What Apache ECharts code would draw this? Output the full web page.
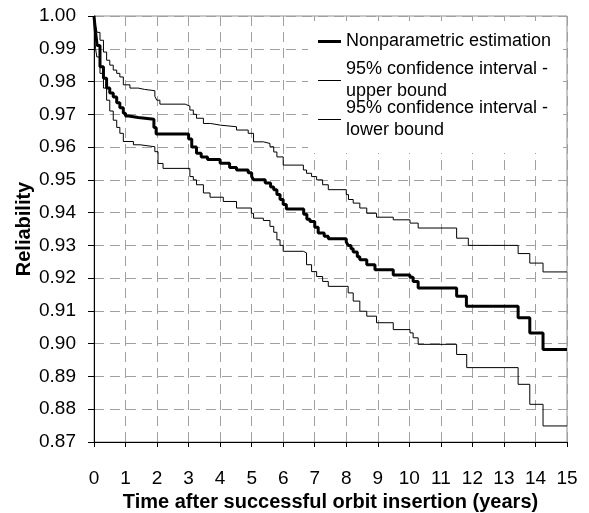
<!DOCTYPE html>
<html>
<head>
<meta charset="utf-8">
<script src="https://cdn.jsdelivr.net/npm/echarts@6/dist/echarts.min.js"></script>
<style>
  html, body { margin: 0; padding: 0; background: #fff; }
  #chart { width: 589px; height: 513px; }
</style>
</head>
<body>
<div id="chart"></div>
<script>
// tick labels
var xTicks = [0, 1, 2, 3, 4, 5, 6, 7, 8, 9, 10, 11, 12, 13, 14, 15];
var yTicks = [0.87, 0.88, 0.89, 0.90, 0.91, 0.92, 0.93, 0.94, 0.95, 0.96, 0.97, 0.98, 0.99, 1.00];

var seriesNames = [
  'Nonparametric estimation',
  '95% confidence interval -\nupper bound',
  '95% confidence interval -\nlower bound'
];

// [time (years), reliability] - level holds until next time
var estimate = [
  [0, 1.0], [0.05, 0.995], [0.1, 0.991], [0.19, 0.9845], [0.3, 0.981], [0.4, 0.978],
  [0.5, 0.9765], [0.61, 0.9753], [0.72, 0.9735], [0.82, 0.972], [0.93, 0.9703],
  [1.0, 0.9695], [1.1, 0.969], [1.4, 0.9685], [1.9, 0.966], [1.97, 0.964],
  [3.0, 0.9625], [3.1, 0.960], [3.25, 0.9581], [3.4, 0.957], [3.6, 0.9562],
  [4.0, 0.9551], [4.3, 0.9538], [4.52, 0.953], [4.89, 0.9522], [5.0, 0.951],
  [5.06, 0.950], [5.43, 0.949], [5.6, 0.9478], [5.7, 0.947], [5.8, 0.9455],
  [5.9, 0.944], [6.0, 0.9425], [6.1, 0.9411], [6.65, 0.9395], [6.75, 0.938],
  [6.85, 0.9373], [7.0, 0.9355], [7.11, 0.9338], [7.3, 0.9328], [7.43, 0.932],
  [8.0, 0.931], [8.06, 0.930], [8.15, 0.929], [8.22, 0.928], [8.35, 0.9265],
  [8.43, 0.9256], [8.65, 0.9241], [8.91, 0.9226], [9.49, 0.921], [10.02, 0.9203],
  [10.12, 0.919], [10.28, 0.917], [11.5, 0.9145], [11.81, 0.9114], [13.45, 0.9079],
  [13.82, 0.9033], [14.24, 0.8982], [15, 0.8982]
];

var upper = [
  [0, 1.0], [0.05, 0.997], [0.1, 0.995], [0.19, 0.9926], [0.3, 0.989], [0.4, 0.9865],
  [0.5, 0.985], [0.61, 0.9835], [0.72, 0.9825], [0.82, 0.9814], [0.93, 0.979],
  [1.14, 0.978], [1.4, 0.9776], [1.6, 0.9772], [1.93, 0.9755], [1.99, 0.9743],
  [2.09, 0.9731], [2.89, 0.9725], [3.04, 0.9713], [3.15, 0.970], [3.25, 0.9688],
  [3.47, 0.9672], [3.7, 0.9667], [4.0, 0.9662], [4.52, 0.9652], [4.89, 0.9642],
  [5.06, 0.9616], [5.37, 0.9611], [5.58, 0.9601], [5.7, 0.9585], [5.8, 0.957],
  [6.0, 0.9545], [6.64, 0.953], [6.74, 0.952], [6.9, 0.951], [7.06, 0.950],
  [7.25, 0.9485], [7.43, 0.947], [8.0, 0.9455], [8.07, 0.944], [8.22, 0.9429],
  [8.43, 0.9414], [8.65, 0.9398], [8.96, 0.9386], [9.49, 0.9378], [10.02, 0.9368],
  [10.28, 0.9353], [11.5, 0.9322], [11.87, 0.930], [13.45, 0.9275], [13.82, 0.9246],
  [14.24, 0.9219], [15, 0.9219]
];

var lower = [
  [0, 1.0], [0.02, 0.993], [0.05, 0.99], [0.09, 0.9875], [0.19, 0.9825], [0.3, 0.978],
  [0.4, 0.9743], [0.5, 0.971], [0.61, 0.9682], [0.72, 0.966], [0.82, 0.9642],
  [0.93, 0.9617], [1.25, 0.9607], [1.46, 0.9601], [1.93, 0.9586], [2.03, 0.955],
  [2.19, 0.9535], [3.04, 0.951], [3.15, 0.950], [3.25, 0.9485], [3.47, 0.946],
  [3.68, 0.9447], [4.1, 0.9434], [4.52, 0.9414], [4.99, 0.9398], [5.06, 0.9383],
  [5.37, 0.9376], [5.58, 0.9358], [5.7, 0.934], [5.8, 0.9317], [5.9, 0.930],
  [6.0, 0.9282], [6.64, 0.9277], [6.74, 0.9241], [6.9, 0.922], [7.06, 0.9205],
  [7.25, 0.919], [7.43, 0.9175], [8.06, 0.9155], [8.22, 0.913], [8.43, 0.9099],
  [8.65, 0.9084], [8.96, 0.9064], [9.49, 0.9043], [10.02, 0.9033], [10.12, 0.9018],
  [10.28, 0.8998], [11.5, 0.8967], [11.82, 0.8927], [13.45, 0.8876], [13.82, 0.8815],
  [14.24, 0.8749], [15, 0.8749]
];

var chart = echarts.init(document.getElementById('chart'));

var font = 'Liberation Sans, Arial, sans-serif';
var gridLine = { show: true, lineStyle: { color: '#a0a0a0', width: 1, type: [10, 6] } };

// one legend per series so the icon sits on the first text line
function legendFor(name, top, twoLines, thick) {
  return {
    left: 318,
    top: top,
    padding: 0,
    orient: 'vertical',
    icon: 'rect',
    itemWidth: 23,
    itemHeight: thick ? 3 : 1,
    selectedMode: false,
    data: [name],
    textStyle: {
      fontFamily: font,
      fontSize: 18,
      color: '#000',
      lineHeight: 22,
      padding: twoLines ? [22, 0, 0, 0] : 0
    }
  };
}

var option = {
  animation: false,
  backgroundColor: '#fff',
  textStyle: { fontFamily: font },
  grid: {
    left: 94, right: 22, top: 16, bottom: 71,
    outerBoundsMode: 'none',
    show: true, borderColor: '#909090', borderWidth: 1
  },
  legend: [
    legendFor(seriesNames[0], 30.5, false, true),
    legendFor(seriesNames[1], 47.5, true, false),
    legendFor(seriesNames[2], 86.5, true, false)
  ],
  graphic: [{
    type: 'rect', left: 308, top: 21, z: 1,
    shape: { width: 255, height: 132 },
    style: { fill: '#fff' }
  }],
  xAxis: {
    type: 'value',
    min: xTicks[0],
    max: xTicks[xTicks.length - 1],
    interval: 1,
    name: 'Time after successful orbit insertion (years)',
    nameLocation: 'middle',
    nameGap: 50,
    nameMoveOverlap: false,
    nameTextStyle: { fontFamily: font, fontSize: 20, fontWeight: 'bold', color: '#000' },
    axisLine: { lineStyle: { color: '#000', width: 1 } },
    axisTick: { show: true, length: 5, lineStyle: { color: '#000' } },
    axisLabel: { fontFamily: font, fontSize: 19, color: '#000', margin: 27 },
    splitLine: gridLine
  },
  yAxis: {
    type: 'value',
    min: yTicks[0],
    max: yTicks[yTicks.length - 1],
    interval: 0.01,
    name: 'Reliability',
    nameLocation: 'middle',
    nameGap: 60,
    nameMoveOverlap: false,
    nameTextStyle: { fontFamily: font, fontSize: 20, fontWeight: 'bold', color: '#000' },
    axisLine: { show: true, lineStyle: { color: '#000', width: 1 } },
    axisTick: { show: true, length: 6, lineStyle: { color: '#000' } },
    axisLabel: {
      fontFamily: font, fontSize: 19, color: '#000', margin: 18,
      formatter: function (v) { return v.toFixed(2); }
    },
    splitLine: gridLine
  },
  series: [
    {
      name: seriesNames[0], type: 'line', step: 'end', data: estimate,
      showSymbol: false, symbol: 'none', z: 3,
      lineStyle: { color: '#000', width: 3 }, itemStyle: { color: '#000' }
    },
    {
      name: seriesNames[1], type: 'line', step: 'end', data: upper,
      showSymbol: false, symbol: 'none',
      lineStyle: { color: '#000', width: 1 }, itemStyle: { color: '#000' }
    },
    {
      name: seriesNames[2], type: 'line', step: 'end', data: lower,
      showSymbol: false, symbol: 'none',
      lineStyle: { color: '#000', width: 1 }, itemStyle: { color: '#000' }
    }
  ]
};

chart.setOption(option);
</script>
</body>
</html>
